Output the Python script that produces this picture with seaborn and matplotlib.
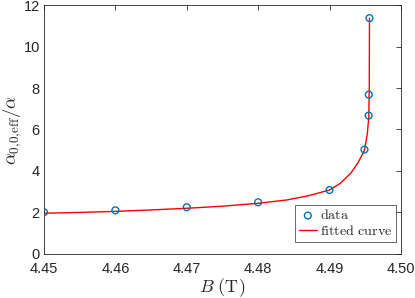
import numpy as np
import pandas as pd
import matplotlib
matplotlib.use("Agg")
import matplotlib.pyplot as plt
import seaborn as sns

# measured points
b_data = [4.45, 4.46, 4.47, 4.48, 4.49, 4.4949, 4.49548, 4.4955, 4.4956]
a_data = [2.01, 2.10, 2.25, 2.49, 3.08, 5.03, 6.67, 7.68, 11.37]

# fitted curve
b_fit = [4.45, 4.455, 4.46, 4.465, 4.47, 4.475, 4.48, 4.484, 4.487, 4.49,
         4.4915, 4.493, 4.494, 4.4949, 4.4953, 4.4955, 4.49557, 4.4956]
a_fit = [1.96, 2.00, 2.05, 2.12, 2.20, 2.30, 2.44, 2.60, 2.80, 3.08,
         3.40, 3.90, 4.40, 5.00, 5.80, 6.60, 8.00, 11.37]

sns.set_style("white")
plt.rcParams['font.family'] = ['Liberation Sans', 'DejaVu Sans']
plt.rcParams['mathtext.fontset'] = 'cm'

fig = plt.figure(figsize=(4.15, 2.98), dpi=100)
ax = fig.add_axes([0.106, 0.148, 0.860, 0.835])

fit = pd.DataFrame({"B": b_fit, "a": a_fit})
dat = pd.DataFrame({"B": b_data, "a": a_data})

sns.lineplot(data=fit, x="B", y="a", ax=ax, color="#ff0000", lw=1.0,
             label=r"$\mathrm{fitted\ curve}$", sort=False)
sns.scatterplot(data=dat, x="B", y="a", ax=ax, marker="o", s=24,
                facecolor="none", edgecolor="#0072BD", linewidth=1.0,
                label=r"$\mathrm{data}$", zorder=3)

ax.set_xlim(4.45, 4.50)
ax.set_ylim(0, 12)
ax.set_xticks([4.45, 4.46, 4.47, 4.48, 4.49, 4.50])
ax.set_xticklabels(["4.45", "4.46", "4.47", "4.48", "4.49", "4.50"])
ax.set_yticks([0, 2, 4, 6, 8, 10, 12])

ax.tick_params(direction="in", length=3.5, width=0.6, colors="#262626",
               labelsize=10.5, top=True, right=True)
ax.tick_params(axis="x", pad=6)
ax.tick_params(axis="y", pad=3)
for sp in ax.spines.values():
    sp.set_color("#262626")
    sp.set_linewidth(0.6)

ax.set_xlabel(r"$B\ (\mathrm{T})$", fontsize=13, labelpad=0)
ax.set_ylabel(r"$\alpha_{0{,}0{,}\mathrm{eff}}/\alpha$", fontsize=13.5)
ax.yaxis.set_label_coords(-0.055, 0.5)

h, l = ax.get_legend_handles_labels()
leg = ax.legend(h[::-1], l[::-1], loc="lower right", bbox_to_anchor=(0.986, 0.048),
                fontsize=10.2, frameon=True, fancybox=False, edgecolor="#262626",
                borderpad=0.25, borderaxespad=0, handlelength=1.3,
                handletextpad=0.2, labelspacing=0.15)
leg.get_frame().set_linewidth(0.6)

fig.savefig("out.png", dpi=100)
